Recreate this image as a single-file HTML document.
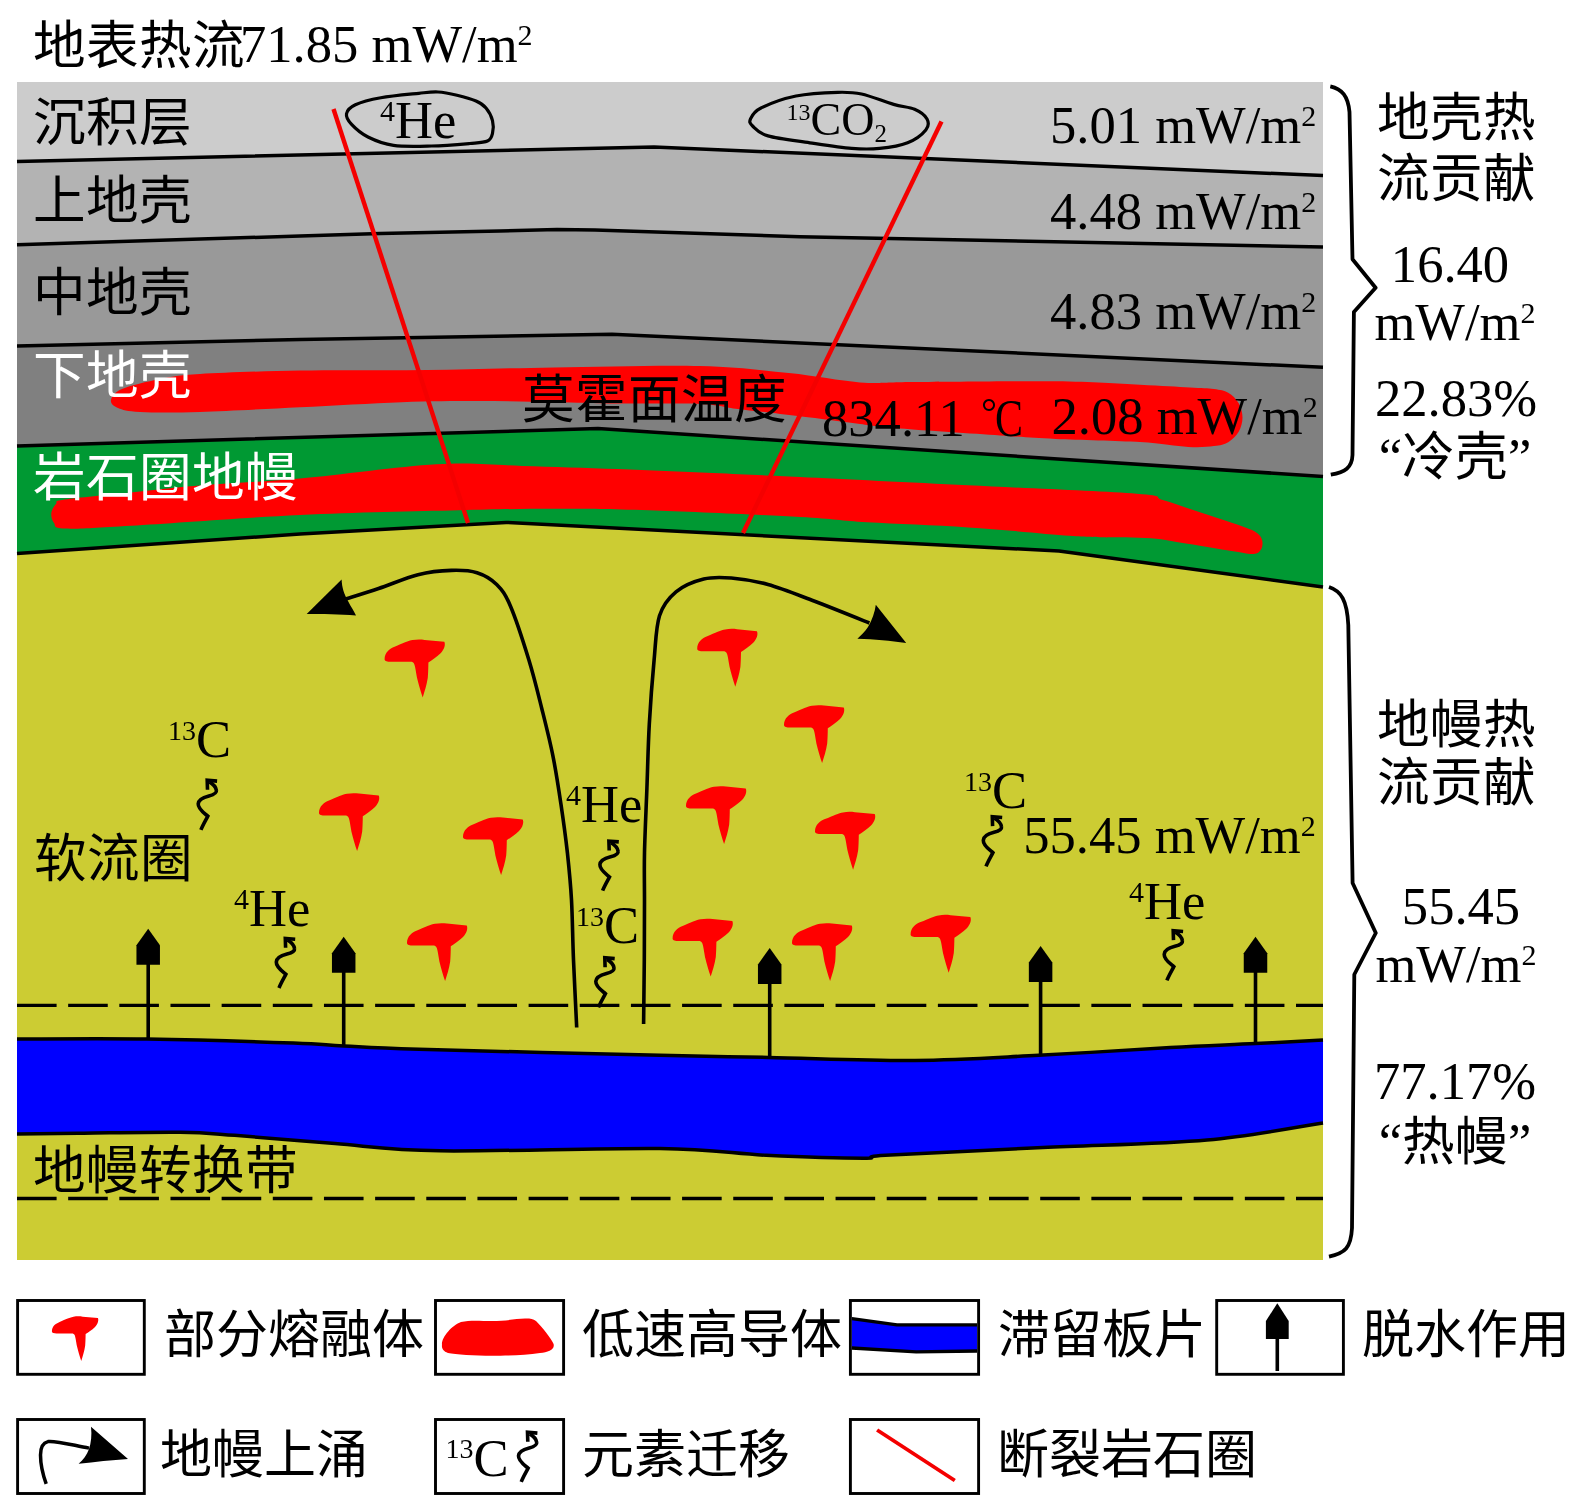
<!DOCTYPE html>
<html lang="zh-CN"><head><meta charset="utf-8"><title>diagram</title>
<style>html,body{margin:0;padding:0;background:#fff;width:1575px;height:1495px;overflow:hidden}
svg{display:block;font-family:'Liberation Serif', serif;will-change:transform}</style></head>
<body><svg width="1575" height="1495" viewBox="0 0 1575 1495">
<rect x="17" y="82" width="1306" height="1178" fill="#cccc33"/>
<polygon points="17.0,82.0 1323.0,82.0 1323.0,587.0 1059.0,551.0 506.0,522.4 300.0,534.0 17.0,553.5" fill="#009933"/>
<polygon points="17.0,82.0 1323.0,82.0 1323.0,476.5 598.0,428.5 17.0,446.0" fill="#808080"/>
<polygon points="17.0,82.0 1323.0,82.0 1323.0,367.3 612.0,334.2 300.0,339.4 17.0,346.0" fill="#999999"/>
<polygon points="17.0,82.0 1323.0,82.0 1323.0,247.0 800.0,236.7 595.0,230.0 557.0,229.6 500.0,231.0 380.0,233.4 300.0,236.0 17.0,244.8" fill="#b3b3b3"/>
<polygon points="17.0,82.0 1323.0,82.0 1323.0,175.6 654.0,147.0 17.0,161.5" fill="#cccccc"/>
<path d="M 111.0,400.0 C 111.7,396.8 113.8,392.5 122.0,389.0 C 130.2,385.5 147.0,381.5 160.0,379.0 C 173.0,376.5 176.7,375.4 200.0,374.0 C 223.3,372.6 262.2,371.2 300.0,370.5 C 337.8,369.8 384.7,370.5 427.0,370.0 C 469.3,369.5 508.5,368.1 554.0,367.4 C 599.5,366.7 660.9,365.1 700.0,366.0 C 739.1,366.9 762.2,370.4 788.9,373.1 C 815.6,375.8 839.3,380.9 860.0,382.4 C 880.7,383.9 880.7,382.2 913.3,382.0 C 945.9,381.8 1017.8,380.9 1055.6,381.3 C 1093.4,381.8 1117.6,383.7 1140.0,384.7 C 1162.4,385.7 1177.7,386.8 1190.0,387.5 C 1202.3,388.2 1207.6,388.1 1214.0,389.0 C 1220.4,389.9 1224.1,390.4 1228.2,392.8 C 1232.4,395.2 1236.3,399.1 1238.7,403.2 C 1241.1,407.4 1242.5,412.8 1242.5,417.5 C 1242.5,422.2 1241.1,427.6 1238.7,431.8 C 1236.3,435.9 1232.4,439.8 1228.2,442.2 C 1224.1,444.6 1220.7,445.2 1214.0,446.0 C 1207.3,446.8 1200.6,447.6 1188.3,446.9 C 1176.0,446.2 1162.1,443.3 1140.0,442.0 C 1117.9,440.7 1078.9,440.0 1055.6,438.9 C 1032.3,437.8 1025.9,437.2 1000.0,435.5 C 974.1,433.8 923.3,430.5 900.0,428.6 C 876.7,426.7 874.2,425.8 860.0,424.0 C 845.8,422.2 828.3,419.7 815.0,418.0 C 801.7,416.3 793.2,415.6 780.0,414.0 C 766.8,412.4 748.9,410.4 735.6,408.7 C 722.3,407.0 719.7,404.9 700.0,404.0 C 680.3,403.1 641.8,403.8 617.5,403.5 C 593.2,403.2 577.3,402.6 554.0,402.2 C 530.7,401.8 503.2,401.0 477.8,401.0 C 452.4,401.0 431.2,401.1 401.6,402.2 C 372.0,403.2 333.6,405.7 300.0,407.3 C 266.4,408.9 226.7,411.2 200.0,412.0 C 173.3,412.8 153.7,412.7 140.0,412.0 C 126.3,411.3 122.8,410.0 118.0,408.0 C 113.2,406.0 110.3,403.2 111.0,400.0 Z" fill="#ff0000"/>
<path d="M 51.3,513.3 C 51.6,510.1 53.8,506.3 56.0,504.0 C 58.2,501.7 52.1,501.4 64.6,499.5 C 77.1,497.6 107.2,494.8 131.0,492.4 C 154.8,489.9 179.3,487.1 207.5,484.8 C 235.7,482.5 261.8,482.0 300.0,478.6 C 338.2,475.2 399.5,466.4 436.5,464.3 C 473.5,462.2 491.8,465.1 522.0,465.9 C 552.2,466.7 585.7,467.8 617.5,469.0 C 649.3,470.2 682.3,471.6 712.7,472.9 C 743.1,474.2 757.5,474.9 800.0,477.0 C 842.5,479.1 911.9,482.5 968.0,485.3 C 1024.1,488.1 1104.0,491.2 1136.5,493.7 C 1169.0,496.1 1151.8,496.8 1162.8,500.0 C 1173.8,503.2 1188.3,508.5 1202.2,513.1 C 1216.1,517.7 1236.8,524.3 1246.0,527.7 C 1255.2,531.1 1255.0,531.4 1257.7,533.6 C 1260.4,535.8 1261.8,538.4 1262.3,541.0 C 1262.8,543.6 1262.5,547.3 1261.0,549.5 C 1259.5,551.7 1258.2,553.7 1253.3,554.0 C 1248.4,554.3 1242.4,552.8 1231.4,551.1 C 1220.5,549.4 1201.0,545.9 1187.6,543.8 C 1174.2,541.7 1165.7,539.4 1151.1,538.3 C 1136.5,537.2 1113.7,537.6 1100.0,537.2 C 1086.3,536.8 1091.2,537.4 1069.2,535.8 C 1047.2,534.2 1001.9,529.6 968.2,527.4 C 934.6,525.1 895.3,524.0 867.3,522.3 C 839.3,520.6 836.4,519.0 800.0,517.0 C 763.6,515.0 690.2,511.7 649.2,510.3 C 608.2,508.9 585.8,508.7 554.0,508.7 C 522.2,508.7 501.0,509.2 458.7,510.3 C 416.4,511.4 354.6,512.4 300.0,515.0 C 245.4,517.6 170.2,523.4 131.0,525.7 C 91.8,528.0 77.4,529.1 64.6,528.6 C 51.8,528.1 56.2,525.5 54.0,523.0 C 51.8,520.5 51.0,516.5 51.3,513.3 Z" fill="#ff0000"/>
<polyline points="17.0,161.5 654.0,147.0 1323.0,175.6" fill="none" stroke="#000" stroke-width="3.5" stroke-linejoin="round"/>
<polyline points="17.0,244.8 300.0,236.0 380.0,233.4 500.0,231.0 557.0,229.6 595.0,230.0 800.0,236.7 1323.0,247.0" fill="none" stroke="#000" stroke-width="3.5" stroke-linejoin="round"/>
<polyline points="17.0,346.0 300.0,339.4 612.0,334.2 1323.0,367.3" fill="none" stroke="#000" stroke-width="3.5" stroke-linejoin="round"/>
<polyline points="17.0,446.0 598.0,428.5 1323.0,476.5" fill="none" stroke="#000" stroke-width="3.5" stroke-linejoin="round"/>
<polyline points="17.0,553.5 300.0,534.0 506.0,522.4 1059.0,551.0 1323.0,587.0" fill="none" stroke="#000" stroke-width="3.5" stroke-linejoin="round"/>
<line x1="333.5" y1="109" x2="468" y2="523" stroke="#f40000" stroke-width="4.4"/>
<line x1="941.5" y1="121.5" x2="743" y2="533" stroke="#f40000" stroke-width="4.4"/>
<path d="M 17.0,1039.0 C 38.6,1039.0 100.6,1038.3 146.7,1039.0 C 192.8,1039.7 260.6,1041.8 293.4,1043.0 C 326.2,1044.2 322.8,1045.0 343.7,1046.0 C 364.6,1047.0 366.3,1047.8 419.0,1049.3 C 471.7,1050.8 601.8,1053.9 660.0,1055.3 C 718.2,1056.7 726.0,1056.6 768.5,1057.4 C 811.0,1058.2 870.0,1060.8 915.0,1060.4 C 960.0,1060.1 996.0,1057.4 1038.6,1055.3 C 1081.2,1053.2 1134.2,1049.5 1170.4,1047.6 C 1206.6,1045.6 1230.1,1044.9 1255.5,1043.6 C 1280.9,1042.3 1311.8,1040.6 1323.0,1040.0  L 1323.0,1123.0 C 1303.7,1125.8 1253.7,1135.9 1207.0,1140.0 C 1160.3,1144.1 1096.4,1145.0 1042.8,1147.6 C 989.2,1150.1 915.2,1153.5 885.4,1155.3 C 855.6,1157.1 883.9,1158.2 864.0,1158.2 C 844.1,1158.2 800.3,1156.9 766.3,1155.3 C 732.3,1153.7 714.4,1149.2 660.0,1148.5 C 605.6,1147.8 494.2,1151.6 440.0,1150.8 C 385.8,1150.0 369.2,1146.2 335.0,1143.6 C 300.8,1141.0 260.5,1137.2 234.7,1135.3 C 208.9,1133.4 205.2,1132.6 180.0,1132.3 C 154.8,1132.0 111.0,1132.9 83.8,1133.2 C 56.6,1133.5 28.1,1133.9 17.0,1134.0  Z" fill="#0000ff"/>
<path d="M 17.0,1039.0 C 38.6,1039.0 100.6,1038.3 146.7,1039.0 C 192.8,1039.7 260.6,1041.8 293.4,1043.0 C 326.2,1044.2 322.8,1045.0 343.7,1046.0 C 364.6,1047.0 366.3,1047.8 419.0,1049.3 C 471.7,1050.8 601.8,1053.9 660.0,1055.3 C 718.2,1056.7 726.0,1056.6 768.5,1057.4 C 811.0,1058.2 870.0,1060.8 915.0,1060.4 C 960.0,1060.1 996.0,1057.4 1038.6,1055.3 C 1081.2,1053.2 1134.2,1049.5 1170.4,1047.6 C 1206.6,1045.6 1230.1,1044.9 1255.5,1043.6 C 1280.9,1042.3 1311.8,1040.6 1323.0,1040.0 " fill="none" stroke="#000" stroke-width="3.5"/>
<path d="M 1323.0,1123.0 C 1303.7,1125.8 1253.7,1135.9 1207.0,1140.0 C 1160.3,1144.1 1096.4,1145.0 1042.8,1147.6 C 989.2,1150.1 915.2,1153.5 885.4,1155.3 C 855.6,1157.1 883.9,1158.2 864.0,1158.2 C 844.1,1158.2 800.3,1156.9 766.3,1155.3 C 732.3,1153.7 714.4,1149.2 660.0,1148.5 C 605.6,1147.8 494.2,1151.6 440.0,1150.8 C 385.8,1150.0 369.2,1146.2 335.0,1143.6 C 300.8,1141.0 260.5,1137.2 234.7,1135.3 C 208.9,1133.4 205.2,1132.6 180.0,1132.3 C 154.8,1132.0 111.0,1132.9 83.8,1133.2 C 56.6,1133.5 28.1,1133.9 17.0,1134.0 " fill="none" stroke="#000" stroke-width="3.5"/>
<line x1="17" y1="1005.3" x2="1323" y2="1005.3" stroke="#000" stroke-width="3.3" stroke-dasharray="39.6 11.56"/>
<line x1="17" y1="1198.5" x2="1323" y2="1198.5" stroke="#000" stroke-width="3.3" stroke-dasharray="39.6 11.56"/>
<path d="M 0,20 C 0,13 5,9.5 10,7.5 C 18,4 24,1.5 28,0.8 C 32,0 36,0 40,0.6 L 59.7,2.5 C 61,5 60,10 56,14 C 52,18 47,21 43.8,23.2 C 43.7,30 43.5,35 43.2,38.4 C 42,46 40,52 38.1,58.1 C 36,52 34,45 32.4,38.4 C 31.5,33 30.5,27 29.8,25.1 C 29,23 27.5,22.5 26,22.5 L 6,22.5 C 3,22.5 0,22 0,20 Z" transform="translate(384.6,639.3) scale(1.0)" fill="#ff0000"/>
<path d="M 0,20 C 0,13 5,9.5 10,7.5 C 18,4 24,1.5 28,0.8 C 32,0 36,0 40,0.6 L 59.7,2.5 C 61,5 60,10 56,14 C 52,18 47,21 43.8,23.2 C 43.7,30 43.5,35 43.2,38.4 C 42,46 40,52 38.1,58.1 C 36,52 34,45 32.4,38.4 C 31.5,33 30.5,27 29.8,25.1 C 29,23 27.5,22.5 26,22.5 L 6,22.5 C 3,22.5 0,22 0,20 Z" transform="translate(697.2,628.7) scale(1.0)" fill="#ff0000"/>
<path d="M 0,20 C 0,13 5,9.5 10,7.5 C 18,4 24,1.5 28,0.8 C 32,0 36,0 40,0.6 L 59.7,2.5 C 61,5 60,10 56,14 C 52,18 47,21 43.8,23.2 C 43.7,30 43.5,35 43.2,38.4 C 42,46 40,52 38.1,58.1 C 36,52 34,45 32.4,38.4 C 31.5,33 30.5,27 29.8,25.1 C 29,23 27.5,22.5 26,22.5 L 6,22.5 C 3,22.5 0,22 0,20 Z" transform="translate(784,705) scale(1.0)" fill="#ff0000"/>
<path d="M 0,20 C 0,13 5,9.5 10,7.5 C 18,4 24,1.5 28,0.8 C 32,0 36,0 40,0.6 L 59.7,2.5 C 61,5 60,10 56,14 C 52,18 47,21 43.8,23.2 C 43.7,30 43.5,35 43.2,38.4 C 42,46 40,52 38.1,58.1 C 36,52 34,45 32.4,38.4 C 31.5,33 30.5,27 29.8,25.1 C 29,23 27.5,22.5 26,22.5 L 6,22.5 C 3,22.5 0,22 0,20 Z" transform="translate(319,793) scale(1.0)" fill="#ff0000"/>
<path d="M 0,20 C 0,13 5,9.5 10,7.5 C 18,4 24,1.5 28,0.8 C 32,0 36,0 40,0.6 L 59.7,2.5 C 61,5 60,10 56,14 C 52,18 47,21 43.8,23.2 C 43.7,30 43.5,35 43.2,38.4 C 42,46 40,52 38.1,58.1 C 36,52 34,45 32.4,38.4 C 31.5,33 30.5,27 29.8,25.1 C 29,23 27.5,22.5 26,22.5 L 6,22.5 C 3,22.5 0,22 0,20 Z" transform="translate(463,817) scale(1.0)" fill="#ff0000"/>
<path d="M 0,20 C 0,13 5,9.5 10,7.5 C 18,4 24,1.5 28,0.8 C 32,0 36,0 40,0.6 L 59.7,2.5 C 61,5 60,10 56,14 C 52,18 47,21 43.8,23.2 C 43.7,30 43.5,35 43.2,38.4 C 42,46 40,52 38.1,58.1 C 36,52 34,45 32.4,38.4 C 31.5,33 30.5,27 29.8,25.1 C 29,23 27.5,22.5 26,22.5 L 6,22.5 C 3,22.5 0,22 0,20 Z" transform="translate(686,786) scale(1.0)" fill="#ff0000"/>
<path d="M 0,20 C 0,13 5,9.5 10,7.5 C 18,4 24,1.5 28,0.8 C 32,0 36,0 40,0.6 L 59.7,2.5 C 61,5 60,10 56,14 C 52,18 47,21 43.8,23.2 C 43.7,30 43.5,35 43.2,38.4 C 42,46 40,52 38.1,58.1 C 36,52 34,45 32.4,38.4 C 31.5,33 30.5,27 29.8,25.1 C 29,23 27.5,22.5 26,22.5 L 6,22.5 C 3,22.5 0,22 0,20 Z" transform="translate(815,811.6) scale(1.0)" fill="#ff0000"/>
<path d="M 0,20 C 0,13 5,9.5 10,7.5 C 18,4 24,1.5 28,0.8 C 32,0 36,0 40,0.6 L 59.7,2.5 C 61,5 60,10 56,14 C 52,18 47,21 43.8,23.2 C 43.7,30 43.5,35 43.2,38.4 C 42,46 40,52 38.1,58.1 C 36,52 34,45 32.4,38.4 C 31.5,33 30.5,27 29.8,25.1 C 29,23 27.5,22.5 26,22.5 L 6,22.5 C 3,22.5 0,22 0,20 Z" transform="translate(407,923) scale(1.0)" fill="#ff0000"/>
<path d="M 0,20 C 0,13 5,9.5 10,7.5 C 18,4 24,1.5 28,0.8 C 32,0 36,0 40,0.6 L 59.7,2.5 C 61,5 60,10 56,14 C 52,18 47,21 43.8,23.2 C 43.7,30 43.5,35 43.2,38.4 C 42,46 40,52 38.1,58.1 C 36,52 34,45 32.4,38.4 C 31.5,33 30.5,27 29.8,25.1 C 29,23 27.5,22.5 26,22.5 L 6,22.5 C 3,22.5 0,22 0,20 Z" transform="translate(672.6,918.5) scale(1.0)" fill="#ff0000"/>
<path d="M 0,20 C 0,13 5,9.5 10,7.5 C 18,4 24,1.5 28,0.8 C 32,0 36,0 40,0.6 L 59.7,2.5 C 61,5 60,10 56,14 C 52,18 47,21 43.8,23.2 C 43.7,30 43.5,35 43.2,38.4 C 42,46 40,52 38.1,58.1 C 36,52 34,45 32.4,38.4 C 31.5,33 30.5,27 29.8,25.1 C 29,23 27.5,22.5 26,22.5 L 6,22.5 C 3,22.5 0,22 0,20 Z" transform="translate(792,923) scale(1.0)" fill="#ff0000"/>
<path d="M 0,20 C 0,13 5,9.5 10,7.5 C 18,4 24,1.5 28,0.8 C 32,0 36,0 40,0.6 L 59.7,2.5 C 61,5 60,10 56,14 C 52,18 47,21 43.8,23.2 C 43.7,30 43.5,35 43.2,38.4 C 42,46 40,52 38.1,58.1 C 36,52 34,45 32.4,38.4 C 31.5,33 30.5,27 29.8,25.1 C 29,23 27.5,22.5 26,22.5 L 6,22.5 C 3,22.5 0,22 0,20 Z" transform="translate(910.6,914.6) scale(1.0)" fill="#ff0000"/>
<line x1="148.2" y1="962.7" x2="148.2" y2="1040" stroke="#000" stroke-width="3.6"/><path d="M 148.2,928.7 L 159.95,945.2 L 159.95,964.7 L 136.45,964.7 L 136.45,945.2 Z" fill="#000"/>
<line x1="343.7" y1="970.8" x2="343.7" y2="1046" stroke="#000" stroke-width="3.6"/><path d="M 343.7,936.8 L 355.45,953.3 L 355.45,972.8 L 331.95,972.8 L 331.95,953.3 Z" fill="#000"/>
<line x1="769.7" y1="982" x2="769.7" y2="1057.5" stroke="#000" stroke-width="3.6"/><path d="M 769.7,948 L 781.45,964.5 L 781.45,984 L 757.95,984 L 757.95,964.5 Z" fill="#000"/>
<line x1="1040.6" y1="980" x2="1040.6" y2="1055" stroke="#000" stroke-width="3.6"/><path d="M 1040.6,946 L 1052.35,962.5 L 1052.35,982 L 1028.85,982 L 1028.85,962.5 Z" fill="#000"/>
<line x1="1255.5" y1="970.8" x2="1255.5" y2="1043.4" stroke="#000" stroke-width="3.6"/><path d="M 1255.5,936.8 L 1267.25,953.3 L 1267.25,972.8 L 1243.75,972.8 L 1243.75,953.3 Z" fill="#000"/>
<path d="M 576.7,1027.5 C 576.2,1016.2 574.4,981.2 573.5,960.0 C 572.6,938.8 572.5,917.9 571.5,900.0 C 570.5,882.1 569.1,868.6 567.4,852.7 C 565.6,836.8 563.4,820.6 561.0,804.5 C 558.6,788.4 556.2,772.3 553.0,756.3 C 549.8,740.2 545.7,724.2 541.7,708.2 C 537.7,692.2 534.1,677.0 528.9,660.0 C 523.7,643.0 515.9,618.8 510.5,606.2 C 505.1,593.6 502.3,590.1 496.7,584.5 C 491.1,578.9 484.6,575.1 477.0,572.7 C 469.4,570.4 461.2,570.1 451.4,570.4 C 441.6,570.7 430.1,571.7 418.0,574.7 C 405.9,577.7 390.8,584.4 378.6,588.5 C 366.4,592.6 350.6,597.5 345.0,599.3 " fill="none" stroke="#000" stroke-width="3.6"/>
<path d="M 306.7,614 L 341.6,579.6 C 342,588 344,594 348,601 C 351,607 354,611 356,615.6 C 340,614 322,614 306.7,614 Z" fill="#000"/>
<path d="M 643.6,1024.0 C 643.7,1013.3 644.1,980.7 644.3,960.0 C 644.4,939.3 644.5,917.9 644.5,900.0 C 644.5,882.1 644.1,871.3 644.5,852.7 C 644.9,834.1 646.1,809.9 646.9,788.5 C 647.7,767.1 648.1,745.6 649.3,724.2 C 650.5,702.8 652.4,678.1 654.1,660.0 C 655.8,641.9 655.9,627.2 659.5,615.8 C 663.1,604.4 668.6,597.9 676.0,591.8 C 683.4,585.7 694.5,581.3 703.7,579.0 C 712.9,576.7 720.6,577.1 731.3,578.0 C 742.0,578.9 754.2,580.7 768.0,584.5 C 781.8,588.3 797.1,594.6 814.0,601.0 C 830.9,607.4 860.2,619.3 869.4,623.0 " fill="none" stroke="#000" stroke-width="3.6"/>
<path d="M 906.2,643 L 875.8,604.7 C 875,612 872,620 868,627 C 865,632 860,636 857.4,638.8 C 875,639 890,641 906.2,643 Z" fill="#000"/>
<path d="M 200.9,829.9 C 202.9,824.9 205.9,819.9 207.8,816.1999999999999 C 203.9,812.9 197.9,808.9 198.20000000000002,803.9 C 198.4,798.9 204.9,796.9 208.9,795.9 C 212.9,794.9 216.9,793.4 216.4,790.4 C 215.9,786.9 212.9,783.9 209.4,781.9" fill="none" stroke="#000" stroke-width="3.6"/><polyline points="217.1,781.1 207.20000000000002,780.3 207.5,789.6999999999999" fill="none" stroke="#000" stroke-width="3.6" stroke-linejoin="miter"/>
<path d="M 279,988 C 281,983 284,978 285.9,974.3 C 282,971 276,967 276.3,962 C 276.5,957 283,955 287,954 C 291,953 295,951.5 294.5,948.5 C 294,945 291,942 287.5,940" fill="none" stroke="#000" stroke-width="3.6"/><polyline points="295.2,939.2 285.3,938.4 285.6,947.8" fill="none" stroke="#000" stroke-width="3.6" stroke-linejoin="miter"/>
<path d="M 602.6,890.7 C 604.6,885.7 607.6,880.7 609.5,877.0 C 605.6,873.7 599.6,869.7 599.9,864.7 C 600.1,859.7 606.6,857.7 610.6,856.7 C 614.6,855.7 618.6,854.2 618.1,851.2 C 617.6,847.7 614.6,844.7 611.1,842.7" fill="none" stroke="#000" stroke-width="3.6"/><polyline points="618.8000000000001,841.9000000000001 608.9,841.1 609.2,850.5" fill="none" stroke="#000" stroke-width="3.6" stroke-linejoin="miter"/>
<path d="M 598.5,1007.4 C 600.5,1002.4 603.5,997.4 605.4,993.6999999999999 C 601.5,990.4 595.5,986.4 595.8,981.4 C 596.0,976.4 602.5,974.4 606.5,973.4 C 610.5,972.4 614.5,970.9 614.0,967.9 C 613.5,964.4 610.5,961.4 607.0,959.4" fill="none" stroke="#000" stroke-width="3.6"/><polyline points="614.7,958.6 604.8,957.8 605.1,967.1999999999999" fill="none" stroke="#000" stroke-width="3.6" stroke-linejoin="miter"/>
<path d="M 986,866.3 C 988,861.3 991,856.3 992.9,852.5999999999999 C 989,849.3 983,845.3 983.3,840.3 C 983.5,835.3 990,833.3 994,832.3 C 998,831.3 1002,829.8 1001.5,826.8 C 1001,823.3 998,820.3 994.5,818.3" fill="none" stroke="#000" stroke-width="3.6"/><polyline points="1002.2,817.5 992.3,816.6999999999999 992.6,826.0999999999999" fill="none" stroke="#000" stroke-width="3.6" stroke-linejoin="miter"/>
<path d="M 1166.9,980.3 C 1168.9,975.3 1171.9,970.3 1173.8000000000002,966.5999999999999 C 1169.9,963.3 1163.9,959.3 1164.2,954.3 C 1164.4,949.3 1170.9,947.3 1174.9,946.3 C 1178.9,945.3 1182.9,943.8 1182.4,940.8 C 1181.9,937.3 1178.9,934.3 1175.4,932.3" fill="none" stroke="#000" stroke-width="3.6"/><polyline points="1183.1000000000001,931.5 1173.2,930.6999999999999 1173.5,940.0999999999999" fill="none" stroke="#000" stroke-width="3.6" stroke-linejoin="miter"/>
<path d="M 346.5,113.7 C 347.1,110.4 349.7,107.5 355.4,104.8 C 361.1,102.1 370.2,99.7 380.8,97.8 C 391.4,95.9 409.4,94.3 418.9,93.3 C 428.4,92.3 431.6,91.7 438.0,92.0 C 444.4,92.3 450.7,93.7 457.0,95.2 C 463.3,96.7 471.2,98.9 476.0,101.0 C 480.8,103.1 483.2,104.7 486.0,108.0 C 488.8,111.3 491.4,116.4 492.5,120.6 C 493.6,124.8 493.3,129.9 492.5,133.3 C 491.7,136.7 491.3,139.3 487.5,141.0 C 483.7,142.7 479.0,142.7 469.7,143.5 C 460.4,144.3 444.3,145.7 431.6,146.0 C 418.9,146.3 404.1,146.9 393.5,145.4 C 382.9,143.9 375.0,140.5 368.0,137.0 C 361.0,133.5 355.2,128.3 351.6,124.4 C 348.0,120.5 345.9,117.0 346.5,113.7 Z" fill="none" stroke="#000" stroke-width="3.2"/>
<path d="M 750.5,119.0 C 751.9,116.0 753.4,111.8 761.0,108.0 C 768.6,104.2 783.2,98.6 796.0,96.0 C 808.8,93.4 826.9,92.6 837.8,92.3 C 848.7,92.0 852.2,92.0 861.5,94.0 C 870.8,96.0 884.8,101.9 893.6,104.4 C 902.5,107.0 909.0,106.9 914.6,109.3 C 920.2,111.7 925.1,115.5 927.0,119.0 C 928.9,122.5 929.0,126.0 925.8,130.0 C 922.6,134.0 915.3,139.7 907.6,142.8 C 899.9,145.9 889.0,147.5 879.7,148.4 C 870.4,149.3 863.4,149.3 851.7,148.4 C 840.1,147.5 823.8,144.9 809.8,142.8 C 795.8,140.7 777.5,138.7 768.0,135.9 C 758.5,133.1 755.5,128.8 752.6,126.0 C 749.7,123.2 749.1,122.0 750.5,119.0 Z" fill="none" stroke="#000" stroke-width="3.2"/>
<path d="M 1330.3,86.4 C 1342,89 1348,96 1349.5,112 L 1352.5,259.3 L 1375.6,287.7 L 1353.9,312 L 1352.5,455 C 1352,468 1345,472 1330.8,474.7" fill="none" stroke="#000" stroke-width="3.8" stroke-linejoin="round"/>
<path d="M 1329,587 C 1341,591 1347,600 1348.3,625 L 1352.6,883 L 1375.8,933 L 1354.3,974.5 L 1352,1228 C 1351,1248 1345,1253 1329,1256.6" fill="none" stroke="#000" stroke-width="3.8" stroke-linejoin="round"/>
<rect x="17.6" y="1300.5" width="126.70000000000002" height="73.79999999999995" fill="none" stroke="#000" stroke-width="2.9"/>
<rect x="435.5" y="1300.5" width="128.10000000000002" height="73.79999999999995" fill="none" stroke="#000" stroke-width="2.9"/>
<rect x="850.4" y="1300.5" width="128.20000000000005" height="73.79999999999995" fill="none" stroke="#000" stroke-width="2.9"/>
<rect x="1216.7" y="1300.5" width="126.70000000000005" height="73.79999999999995" fill="none" stroke="#000" stroke-width="2.9"/>
<rect x="17.6" y="1419.5" width="126.70000000000002" height="74.0" fill="none" stroke="#000" stroke-width="2.9"/>
<rect x="435.5" y="1419.5" width="128.10000000000002" height="74.0" fill="none" stroke="#000" stroke-width="2.9"/>
<rect x="850.4" y="1419.5" width="128.20000000000005" height="74.0" fill="none" stroke="#000" stroke-width="2.9"/>
<path d="M 0,20 C 0,13 5,9.5 10,7.5 C 18,4 24,1.5 28,0.8 C 32,0 36,0 40,0.6 L 59.7,2.5 C 61,5 60,10 56,14 C 52,18 47,21 43.8,23.2 C 43.7,30 43.5,35 43.2,38.4 C 42,46 40,52 38.1,58.1 C 36,52 34,45 32.4,38.4 C 31.5,33 30.5,27 29.8,25.1 C 29,23 27.5,22.5 26,22.5 L 6,22.5 C 3,22.5 0,22 0,20 Z" transform="translate(51.9,1316.2) scale(0.77)" fill="#ff0000"/>
<path d="M 442,1345 C 441,1338 452,1325 461,1322 C 470,1320 480,1321 492,1321 C 505,1321 515,1319 525,1318.6 C 530,1318.5 533,1319 536,1321 C 542,1327 551,1338 553.6,1344 C 555,1350 548,1352 540,1353 C 525,1355.5 505,1355.7 492,1355.7 C 475,1355.7 455,1354.5 448,1353 C 443,1351.5 441.5,1348 442,1345 Z" fill="#ff0000"/>
<polygon points="851.9,1318.6 897,1324.8 977,1324.8 977,1351 916.2,1351.9 851.9,1348" fill="#0000ff"/>
<polyline points="851.9,1318.6 897,1324.8 977,1324.8" fill="none" stroke="#000" stroke-width="3.3" stroke-linejoin="round"/>
<polyline points="851.9,1348 916.2,1351.9 977,1351" fill="none" stroke="#000" stroke-width="3.3" stroke-linejoin="round"/>
<line x1="1277.3" y1="1337.0" x2="1277.3" y2="1371" stroke="#000" stroke-width="3.6"/><path d="M 1277.3,1303.3 L 1288.7,1321.0 L 1288.7,1339.0 L 1265.8999999999999,1339.0 L 1265.8999999999999,1321.0 Z" fill="#000"/>
<path d="M 46.2,1483.8 C 43,1475 40.5,1467 40.5,1455 C 40.5,1448 42,1443 48,1441.6 C 55,1440.5 70,1444.5 89,1448.1" fill="none" stroke="#000" stroke-width="3.5"/>
<path d="M 128,1459 L 91,1426.7 C 92,1435 91,1443 89,1449 C 87,1455 83,1460 78.6,1463.8 C 95,1462 112,1460 128,1459 Z" fill="#000"/>
<path d="M 521.2,1481.9 C 523.2,1476.9 526.2,1471.9 528.1,1468.2 C 524.2,1464.9 518.2,1460.9 518.5,1455.9 C 518.7,1450.9 525.2,1448.9 529.2,1447.9 C 533.2,1446.9 537.2,1445.4 536.7,1442.4 C 536.2,1438.9 533.2,1435.9 529.7,1433.9" fill="none" stroke="#000" stroke-width="3.6"/><polyline points="537.4000000000001,1433.1000000000001 527.5,1432.3000000000002 527.8000000000001,1441.7" fill="none" stroke="#000" stroke-width="3.6" stroke-linejoin="miter"/>
<line x1="877.1" y1="1430" x2="954.8" y2="1480.5" stroke="#f40000" stroke-width="3.8"/>
<text x="33" y="64" font-size="52.6" fill="#000" text-anchor="start">地表热流</text>
<text x="240" y="61.5" font-size="52.6" fill="#000" text-anchor="start">71.85 mW/m<tspan font-size="30" dy="-17">2</tspan></text>
<text x="33" y="141" font-size="52.6" fill="#000" text-anchor="start">沉积层</text>
<text x="33" y="219" font-size="52.6" fill="#000" text-anchor="start">上地壳</text>
<text x="33" y="311" font-size="52.6" fill="#000" text-anchor="start">中地壳</text>
<text x="33" y="394" font-size="52.6" fill="#fff" text-anchor="start">下地壳</text>
<text x="33" y="496" font-size="52.6" fill="#fff" text-anchor="start">岩石圈地幔</text>
<text x="522" y="418" font-size="52.6" fill="#000" text-anchor="start">莫霍面温度</text>
<text x="1050" y="142.5" font-size="52.6" fill="#000" text-anchor="start">5.01 mW/m<tspan font-size="30" dy="-17">2</tspan></text>
<text x="1050" y="228.5" font-size="52.6" fill="#000" text-anchor="start">4.48 mW/m<tspan font-size="30" dy="-17">2</tspan></text>
<text x="1050" y="328.5" font-size="52.6" fill="#000" text-anchor="start">4.83 mW/m<tspan font-size="30" dy="-17">2</tspan></text>
<text x="822" y="435.5" font-size="52.6" fill="#000" text-anchor="start">834.11</text>
<text x="981" y="426" font-size="40">°</text>
<text x="995" y="435.5" font-size="52" textLength="28" lengthAdjust="spacingAndGlyphs">C</text>
<text x="1051.5" y="433.8" font-size="52.6" fill="#000" text-anchor="start">2.08 mW/m<tspan font-size="30" dy="-17">2</tspan></text>
<text x="380" y="138.4" font-size="52.6"><tspan font-size="30" dy="-17">4</tspan><tspan dy="17">He</tspan></text>
<text x="786.5" y="134.5" font-size="46"><tspan font-size="24" dy="-15">13</tspan><tspan dy="15">CO</tspan><tspan font-size="25" dy="7.7">2</tspan></text>
<text x="168" y="757" font-size="52.6"><tspan font-size="28" dy="-17">13</tspan><tspan dy="17">C</tspan></text>
<text x="234" y="925.7" font-size="52.6"><tspan font-size="30" dy="-17">4</tspan><tspan dy="17">He</tspan></text>
<text x="566" y="821.8" font-size="52.6"><tspan font-size="30" dy="-17">4</tspan><tspan dy="17">He</tspan></text>
<text x="576" y="942.6" font-size="52.6"><tspan font-size="28" dy="-17">13</tspan><tspan dy="17">C</tspan></text>
<text x="964" y="807.7" font-size="52.6"><tspan font-size="28" dy="-17">13</tspan><tspan dy="17">C</tspan></text>
<text x="1129" y="918.6" font-size="52.6"><tspan font-size="30" dy="-17">4</tspan><tspan dy="17">He</tspan></text>
<text x="1023.2" y="852.6" font-size="52.6" fill="#000" text-anchor="start">55.45 mW/m<tspan font-size="30" dy="-17">2</tspan></text>
<text x="34" y="877" font-size="52.6" fill="#000" text-anchor="start">软流圈</text>
<text x="33" y="1189" font-size="52.6" fill="#000" text-anchor="start">地幔转换带</text>
<text x="1456" y="136" font-size="52.6" fill="#000" text-anchor="middle">地壳热</text>
<text x="1456" y="197" font-size="52.6" fill="#000" text-anchor="middle">流贡献</text>
<text x="1450" y="281.6" font-size="52.6" fill="#000" text-anchor="middle">16.40</text>
<text x="1455" y="340" font-size="52.6" fill="#000" text-anchor="middle">mW/m<tspan font-size="30" dy="-17">2</tspan></text>
<text x="1456" y="415.8" font-size="52.6" fill="#000" text-anchor="middle">22.83%</text>
<text x="1455" y="474.5" font-size="52.6" fill="#000" text-anchor="middle">“冷壳”</text>
<text x="1456" y="743" font-size="52.6" fill="#000" text-anchor="middle">地幔热</text>
<text x="1456" y="800.5" font-size="52.6" fill="#000" text-anchor="middle">流贡献</text>
<text x="1461" y="923.8" font-size="52.6" fill="#000" text-anchor="middle">55.45</text>
<text x="1456" y="982" font-size="52.6" fill="#000" text-anchor="middle">mW/m<tspan font-size="30" dy="-17">2</tspan></text>
<text x="1455" y="1099" font-size="52.6" fill="#000" text-anchor="middle">77.17%</text>
<text x="1455" y="1159.5" font-size="52.6" fill="#000" text-anchor="middle">“热幔”</text>
<text x="445.5" y="1476.3" font-size="52.6"><tspan font-size="28" dy="-18.5">13</tspan><tspan dy="18.5">C</tspan></text>
<text x="164" y="1353" font-size="52" fill="#000" text-anchor="start">部分熔融体</text>
<text x="582" y="1353" font-size="52" fill="#000" text-anchor="start">低速高导体</text>
<text x="998" y="1353" font-size="52" fill="#000" text-anchor="start">滞留板片</text>
<text x="1362" y="1353" font-size="52" fill="#000" text-anchor="start">脱水作用</text>
<text x="160" y="1472.5" font-size="52" fill="#000" text-anchor="start">地幔上涌</text>
<text x="582" y="1472.5" font-size="52" fill="#000" text-anchor="start">元素迁移</text>
<text x="997" y="1472.5" font-size="52" fill="#000" text-anchor="start">断裂岩石圈</text>
</svg></body></html>
